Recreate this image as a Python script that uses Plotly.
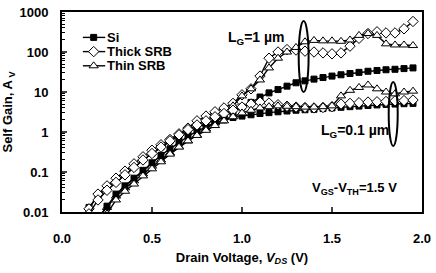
import plotly.graph_objects as go

V = [0.10, 0.15, 0.20, 0.25, 0.30, 0.35, 0.40, 0.45, 0.50, 0.55, 0.60, 0.65, 0.70, 0.75,
     0.80, 0.85, 0.90, 0.95, 1.00, 1.05, 1.10, 1.15, 1.20, 1.25, 1.30, 1.35, 1.40, 1.45,
     1.50, 1.55, 1.60, 1.65, 1.70, 1.75, 1.80, 1.85, 1.90, 1.95]

si_lg1 = [0.006, 0.013, 0.025, 0.04, 0.06, 0.09, 0.14, 0.21, 0.30, 0.43, 0.6, 0.8, 1.0, 1.3,
          1.6, 2.0, 2.5, 3.2, 4.2, 5.5, 7.5, 9.5, 11.5, 14, 17, 19, 21, 23,
          25, 27, 29, 31, 33, 34.5, 36, 37, 38.5, 40]
si_lg01 = [None, None, 0.007, 0.014, 0.028, 0.045, 0.07, 0.11, 0.17, 0.26, 0.38, 0.55, 0.78, 1.05,
           1.35, 1.7, 2.0, 2.3, 2.5, 2.7, 2.9, 3.05, 3.2, 3.35, 3.5, 3.6, 3.7, 3.85,
           4.0, 4.15, 4.3, 4.45, 4.6, 4.75, 4.9, 5.0, 5.1, 5.2]
thick_lg1 = [0.005, 0.012, 0.028, 0.045, 0.07, 0.105, 0.16, 0.24, 0.35, 0.48, 0.65, 0.9, 1.25, 1.9,
             2.5, 3.2, 4.0, 5.2, 8.5, 12, 25, 70, 100, 115, 112, 105, 100, 95,
             90, 95, 140, 220, 290, 320, 300, 300, 380, 580]
thick_lg01 = [None, 0.009, 0.02, 0.035, 0.055, 0.085, 0.13, 0.2, 0.29, 0.42, 0.6, 0.85, 1.15, 1.5,
              1.9, 2.4, 2.9, 3.5, 4.2, 5.0, 5.6, 5.3, 4.8, 4.4, 4.2, 4.1, 4.0, 4.1,
              4.3, 5.0, 5.2, 5.4, 5.6, 5.7, 5.8, 6.0, 6.1, 6.3]
thin_lg1 = [None, None, 0.007, 0.013, 0.025, 0.04, 0.06, 0.09, 0.14, 0.2, 0.3, 0.43, 0.6, 0.85,
            1.2, 1.7, 2.5, 4.5, 8, 12, 20, 40, 70, 100, 130, 180, 195, 190,
            190, 185, 200, 260, 290, 260, 160, 150, 150, 145]
thin_lg01 = [None, None, None, 0.009, 0.02, 0.033, 0.05, 0.08, 0.12, 0.18, 0.28, 0.42, 0.6, 0.82,
             1.1, 1.45, 1.9, 2.4, 3.0, 3.5, 4.0, 4.3, 4.5, 4.4, 4.3, 4.2, 4.2, 4.3,
             4.5, 8, 11, 13, 15, 12, 10, 9, 10, 10.5]

legend_names = ["Si", "Thick SRB", "Thin SRB"]

y_ticks = [0.01, 0.1, 1, 10, 100, 1000]
y_ticktext = ["0.01", "0.1", "1", "10", "100", "1000"]
y_minor = [m * d for d in [0.01, 0.1, 1, 10, 100] for m in range(2, 10)]

FONT = "Liberation Sans, Arial, sans-serif"
LINE = dict(color="black", width=1.4)

STYLE = {
    "Si": dict(symbol="square", size=6, color="black"),
    "Thick SRB": dict(symbol="diamond", size=8, color="white"),
    "Thin SRB": dict(symbol="triangle-up", size=8, color="white"),
}

series = [
    ("Si", si_lg1), ("Thick SRB", thick_lg1), ("Thin SRB", thin_lg1),
    ("Si", si_lg01), ("Thick SRB", thick_lg01), ("Thin SRB", thin_lg01),
]

fig = go.Figure()
for name, ys in series:
    st = STYLE[name]
    fig.add_trace(go.Scatter(
        x=V, y=ys, name=name, mode="lines+markers", showlegend=False,
        line=LINE,
        marker=dict(symbol=st["symbol"], size=st["size"], color=st["color"],
                    line=dict(color="black", width=1)),
    ))

# custom legend (sample marks on a hidden overlay axis spanning the plot area)
leg_y = [0.873, 0.802, 0.731]
for name, ly in zip(legend_names, leg_y):
    st = STYLE[name]
    fig.add_trace(go.Scatter(
        x=[0.058, 0.088, 0.12], y=[ly, ly, ly], xaxis="x2", yaxis="y2",
        mode="lines", line=LINE, showlegend=False, hoverinfo="skip"))
    fig.add_trace(go.Scatter(
        x=[0.088], y=[ly], xaxis="x2", yaxis="y2", mode="markers", showlegend=False,
        hoverinfo="skip",
        marker=dict(symbol=st["symbol"], size=st["size"], color=st["color"],
                    line=dict(color="black", width=1))))
    fig.add_annotation(x=0.122, y=ly, xref="paper", yref="paper", xanchor="left",
                       yanchor="middle", text=name, showarrow=False, borderpad=0,
                       font=dict(size=13, weight="bold"))

fig.update_layout(
    width=436, height=273,
    margin=dict(l=62, r=9, t=5, b=61),
    paper_bgcolor="white", plot_bgcolor="white",
    font=dict(family=FONT, color="black", size=12),
    showlegend=False,
    xaxis=dict(range=[0, 2], dtick=0.5, tickformat=".1f", ticks="inside", ticklen=5,
               tickwidth=2, showline=True, linewidth=2, linecolor="black", mirror=True,
               showgrid=False, zeroline=False, ticklabelstandoff=13,
               ticklabeloverflow="allow",
               tickfont=dict(size=13, weight="bold"),
               title=dict(text="Drain Voltage, <i>V</i><sub><i>DS</i></sub> (V)",
                          font=dict(size=13, weight="bold"), standoff=8)),
    yaxis=dict(type="log", range=[-2, 3], tickvals=y_ticks, ticktext=y_ticktext,
               ticks="inside", ticklen=5, tickwidth=2, showline=True, linewidth=2,
               linecolor="black", mirror=True, showgrid=False, zeroline=False,
               ticklabelstandoff=9, ticklabeloverflow="allow",
               minor=dict(tickvals=y_minor, ticks="inside", ticklen=3, tickwidth=1,
                          tickcolor="black", showgrid=False),
               tickfont=dict(size=13, weight="bold"),
               title=dict(text="Self Gain, A<sub> V</sub>",
                          font=dict(size=13, weight="bold"), standoff=4)),
    xaxis2=dict(range=[0, 1], overlaying="x", visible=False, fixedrange=True),
    yaxis2=dict(range=[0, 1], overlaying="y", visible=False, fixedrange=True),
)

fig.add_shape(type="circle", xref="x", yref="paper", x0=1.315, x1=1.37, y0=0.60, y1=0.955,
              line=dict(color="black", width=2))
fig.add_shape(type="circle", xref="x", yref="paper", x0=1.815, x1=1.865, y0=0.33, y1=0.65,
              line=dict(color="black", width=2))

fig.add_annotation(x=1.25, y=0.87, xref="x", yref="paper", xanchor="right", yanchor="middle",
                   text="L<sub>G</sub>=1 µm", showarrow=False,
                   font=dict(size=14, weight="bold"))
fig.add_annotation(x=1.83, y=0.405, xref="x", yref="paper", xanchor="right", yanchor="middle",
                   text="L<sub>G</sub>=0.1 µm", showarrow=False,
                   font=dict(size=14, weight="bold"))
fig.add_annotation(x=1.87, y=0.12, xref="x", yref="paper", xanchor="right", yanchor="middle",
                   text="V<sub>GS</sub>-V<sub>TH</sub>=1.5 V", showarrow=False,
                   font=dict(size=13, weight="bold"))

fig.write_html("out.html")
